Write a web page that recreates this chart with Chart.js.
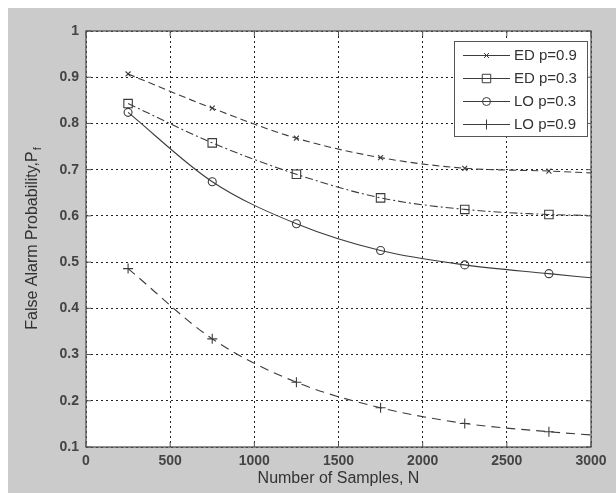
<!DOCTYPE html>
<html>
<head>
<meta charset="utf-8">
<script src="https://cdn.jsdelivr.net/npm/chart.js@4.4.1/dist/chart.umd.min.js"></script>
<style>
    html, body { margin: 0; padding: 0; background: #fff; }
    #wrap { position: relative; width: 616px; height: 493px; }
</style>
</head>
<body>
<div id="wrap"><canvas id="pfChart"></canvas></div>
<script>
// N values where the curves are read (markers everywhere but the last point)
const nSamples = [250, 750, 1250, 1750, 2250, 2750, 3000]
const edP09 = [0.907, 0.833, 0.768, 0.726, 0.703, 0.697, 0.693]
const edP03 = [0.843, 0.758, 0.690, 0.639, 0.614, 0.603, 0.601]
const loP03 = [0.824, 0.674, 0.583, 0.525, 0.494, 0.475, 0.466]
const loP09 = [0.486, 0.334, 0.240, 0.185, 0.151, 0.133, 0.126]
const seriesNames = ['ED p=0.9', 'ED p=0.3', 'LO p=0.3', 'LO p=0.9']
const xTicks = [0, 500, 1000, 1500, 2000, 2500, 3000]

const lineColor = '#3c3c3c'
const textColor = '#333'
const figGray = '#cbcbcb'
const fontFamily = '"Liberation Sans", Arial, sans-serif'

const toPoints = (ys) => ys.map((y, i) => ({ x: nSamples[i], y: y }))
const markerRadius = (r) => nSamples.map((n, i) => i === nSamples.length - 1 ? 0 : r)

const makeSet = (label, ys, style, radius, dash) => ({
    label: label,
    data: toPoints(ys),
    borderColor: lineColor,
    borderWidth: 1.1,
    borderDash: dash,
    pointStyle: style,
    pointRadius: markerRadius(radius),
    pointBorderColor: lineColor,
    pointBackgroundColor: 'rgba(0,0,0,0)',
    pointBorderWidth: 1.1,
    cubicInterpolationMode: 'monotone',
    fill: false
})

const datasets = [
    makeSet(seriesNames[0], edP09, 'crossRot', 3.5, [7, 4]),
    makeSet(seriesNames[1], edP03, 'rect', 6, [8, 3, 2, 3]),
    makeSet(seriesNames[2], loP03, 'circle', 4, []),
    makeSet(seriesNames[3], loP09, 'cross', 5, [9, 6])
]

// фон фигуры, рамка, внутренние риски, подписи осей и легенда
const matlabFrame = {
    id: 'matlabFrame',
    beforeDraw(chart) {
        const { ctx, width, height, chartArea: a } = chart
        ctx.save()
        ctx.fillStyle = '#fff'
        ctx.fillRect(0, 0, width, height)
        ctx.fillStyle = figGray
        ctx.fillRect(8, 8, width - 8, height - 8)
        ctx.fillStyle = '#fff'
        ctx.fillRect(a.left, a.top, a.right - a.left, a.bottom - a.top)
        ctx.restore()
    },
    afterDraw(chart) {
        const { ctx, chartArea: a } = chart
        const xs = chart.scales.x
        const ys = chart.scales.y
        ctx.save()
        ctx.strokeStyle = '#555'
        ctx.lineWidth = 1.3
        ctx.setLineDash([])
        ctx.strokeRect(a.left, a.top, a.right - a.left, a.bottom - a.top)

        // риски внутрь, как в MATLAB
        ctx.lineWidth = 1
        ctx.beginPath()
        xs.ticks.forEach(t => {
            const px = xs.getPixelForValue(t.value)
            ctx.moveTo(px, a.bottom); ctx.lineTo(px, a.bottom - 5)
            ctx.moveTo(px, a.top); ctx.lineTo(px, a.top + 5)
        })
        ys.ticks.forEach(t => {
            const py = ys.getPixelForValue(t.value)
            ctx.moveTo(a.left, py); ctx.lineTo(a.left + 5, py)
            ctx.moveTo(a.right, py); ctx.lineTo(a.right - 5, py)
        })
        ctx.stroke()

        // подпись оси x
        ctx.fillStyle = textColor
        ctx.font = '16px ' + fontFamily
        ctx.textAlign = 'center'
        ctx.textBaseline = 'middle'
        ctx.fillText('Number of Samples, N', (a.left + a.right) / 2, 479)

        // подпись оси y с индексом f
        const main = 'False Alarm Probability,P'
        ctx.font = '16px ' + fontFamily
        const w1 = ctx.measureText(main).width
        ctx.font = '11px ' + fontFamily
        const w2 = ctx.measureText('f').width
        ctx.translate(33, (a.top + a.bottom) / 2)
        ctx.rotate(-Math.PI / 2)
        ctx.textAlign = 'left'
        ctx.font = '16px ' + fontFamily
        ctx.fillText(main, -(w1 + w2) / 2, 0)
        ctx.font = '11px ' + fontFamily
        ctx.fillText('f', -(w1 + w2) / 2 + w1 + 1, 5)
        ctx.restore()

        // легенда
        const box = { left: 454, top: 41, right: 587, bottom: 136 }
        ctx.save()
        ctx.fillStyle = '#fff'
        ctx.fillRect(box.left, box.top, box.right - box.left, box.bottom - box.top)
        ctx.strokeStyle = '#555'
        ctx.lineWidth = 1
        ctx.strokeRect(box.left + 0.5, box.top + 0.5, box.right - box.left, box.bottom - box.top)
        chart.data.datasets.forEach((ds, i) => {
            const y = 55 + i * 23
            ctx.strokeStyle = lineColor
            ctx.setLineDash([])
            ctx.beginPath()
            ctx.moveTo(463, y + 0.5)
            ctx.lineTo(510, y + 0.5)
            ctx.stroke()
            if (Chart.helpers && Chart.helpers.drawPoint) {
                ctx.fillStyle = 'rgba(0,0,0,0)'
                Chart.helpers.drawPoint(ctx, {
                    pointStyle: ds.pointStyle,
                    radius: ds.pointRadius[0],
                    rotation: 0,
                    borderWidth: 1
                }, 486.5, y + 0.5)
            }
            ctx.fillStyle = textColor
            ctx.font = '15px ' + fontFamily
            ctx.textAlign = 'left'
            ctx.textBaseline = 'middle'
            ctx.fillText(ds.label, 514, y + 1)
        })
        ctx.restore()
    }
}

const fmtY = (v) => String(parseFloat(Number(v).toFixed(1)))
const tickFont = { family: fontFamily, size: 14, weight: 'bold' }

new Chart(document.getElementById('pfChart').getContext('2d'), {
    type: 'line',
    data: { datasets: datasets },
    options: {
        responsive: true,
        maintainAspectRatio: false,
        animation: false,
        layout: { padding: { top: 31, right: 25, left: 0, bottom: 0 } },
        plugins: {
            legend: { display: false },
            tooltip: { enabled: false }
        },
        scales: {
            x: {
                type: 'linear',
                min: 0,
                max: 3000,
                afterFit: (scale) => { scale.height = 46 },
                afterBuildTicks: (scale) => { scale.ticks = xTicks.map(v => ({ value: v })) },
                grid: { color: '#222', lineWidth: 1, drawTicks: false },
                border: { display: false, dash: [2, 3] },
                ticks: {
                    color: '#444',
                    padding: 6,
                    maxRotation: 0,
                    font: tickFont,
                    callback: (v) => String(v)
                }
            },
            y: {
                type: 'linear',
                min: 0.1,
                max: 1,
                afterFit: (scale) => { scale.width = 86 },
                grid: { color: '#222', lineWidth: 1, drawTicks: false },
                border: { display: false, dash: [2, 3] },
                ticks: {
                    stepSize: 0.1,
                    color: '#444',
                    padding: 7,
                    font: tickFont,
                    callback: fmtY
                }
            }
        }
    },
    plugins: [matlabFrame]
})
</script>
</body>
</html>
